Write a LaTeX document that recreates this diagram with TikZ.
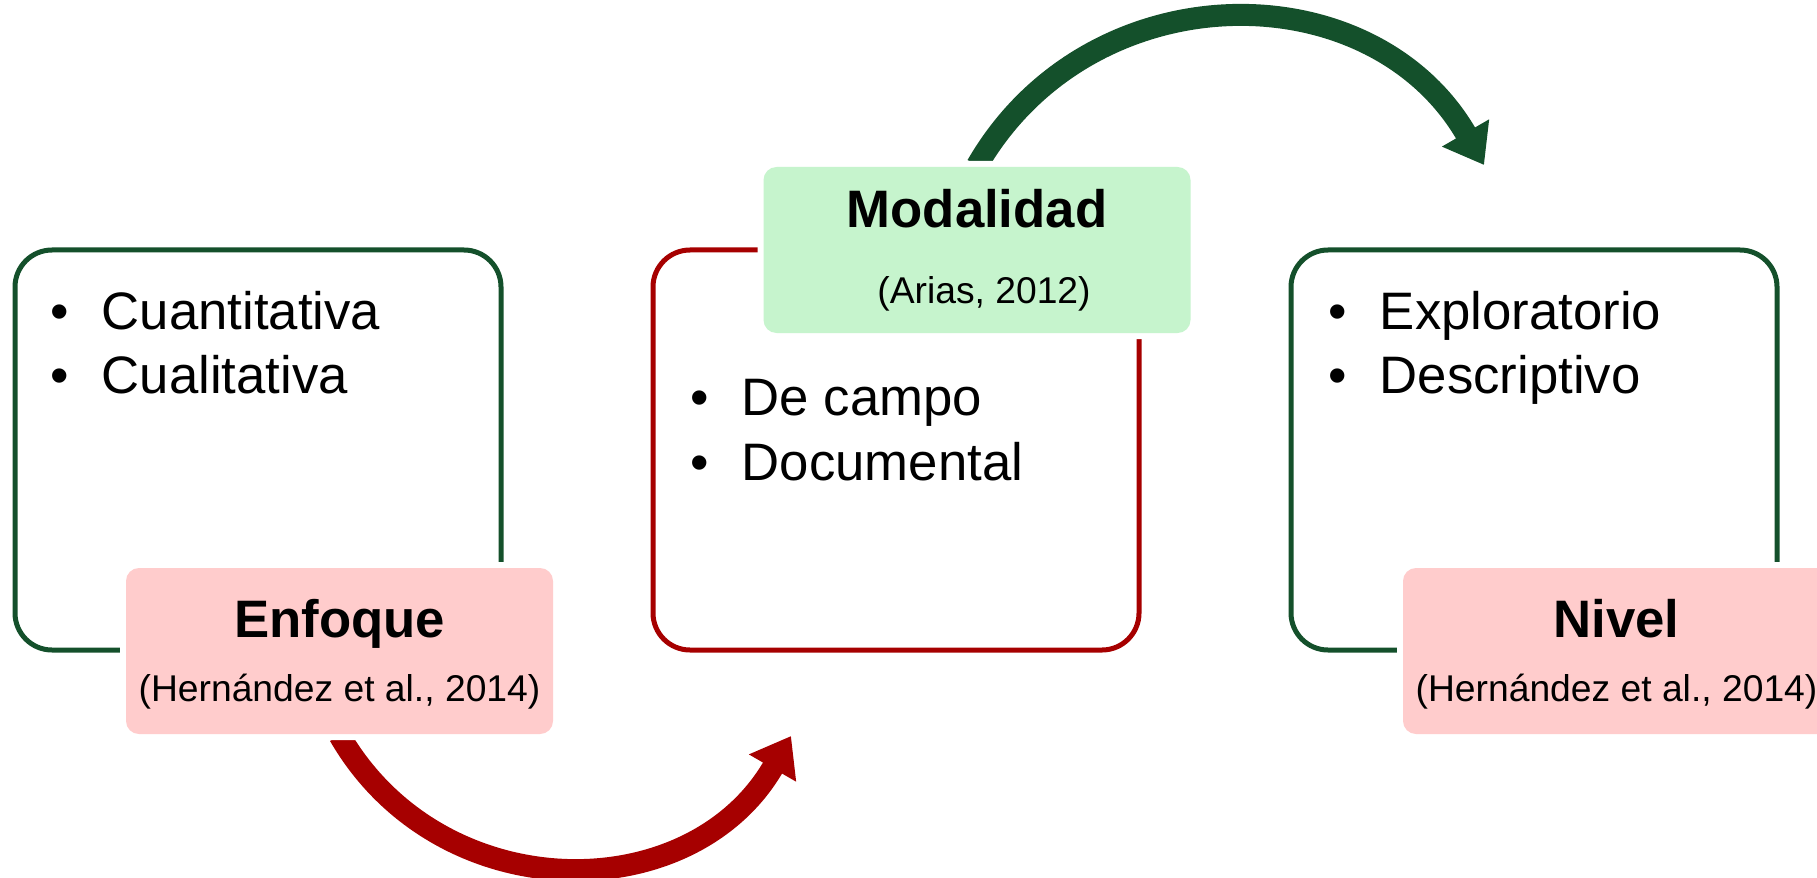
\documentclass[tikz,border=0pt]{standalone}
\usepackage{fontspec}
\setmainfont{Liberation Sans}
\usetikzlibrary{positioning}
\usetikzlibrary{arrows.meta}
\usetikzlibrary{backgrounds}
\definecolor{dgreen}{RGB}{20,80,43}
\definecolor{dred}{RGB}{166,0,0}
\definecolor{lpink}{RGB}{255,204,204}
\definecolor{lgreen}{RGB}{198,244,205}
\tikzset{
    mybox/.style = {rectangle, rounded corners=0.37cm, line width=0.05cm, draw=dgreen, minimum width=4.86cm, minimum height=4cm, inner sep=0},
    myboxr/.style = {mybox, draw=dred},
    mytag/.style = {rectangle, rounded corners=0.13cm, fill=lpink, minimum width=4.27cm, minimum height=1.66cm, inner sep=0, preaction={draw=white, line width=0.12cm}},
    mytagg/.style = {mytag, fill=lgreen},
    mytitle/.style = {anchor=base, inner sep=0, font=\fontsize{15}{18}\selectfont\bfseries},
    mycite/.style = {anchor=base, inner sep=0, font=\fontsize{10.6}{12.5}\selectfont},
    mylist/.style = {anchor=base west, inner sep=0, font=\fontsize{15}{18}\selectfont},
    edger/.style = {line width=0.22cm, dred, -{Triangle[length=0.37cm, width=0.52cm]}}, % enfoque -> modalidad
    edgeg/.style = {line width=0.22cm, dgreen, -{Triangle[length=0.37cm, width=0.52cm]}} % modalidad -> nivel
}
\begin{document}
\begin{tikzpicture}[thick]
\path[use as bounding box, clip] (0,0) rectangle (18.17,8.77);
\node[mybox] at (2.58,4.27) (enfoqueb) {};
\node[myboxr] at (8.96,4.27) (modalidadb) {};
\node[mybox] at (15.34,4.27) (nivelb) {};
%
\node[mylist] at (0.49,5.48) (l1) {\textbullet\hspace{0.33cm}Cuantitativa};
\node[mylist] at (0.49,4.84) (l2) {\textbullet\hspace{0.33cm}Cualitativa};
\node[mylist] at (6.89,4.62) (m1) {\textbullet\hspace{0.33cm}De campo};
\node[mylist] at (6.89,3.97) (m2) {\textbullet\hspace{0.33cm}Documental};
\node[mylist] at (13.27,5.48) (n1) {\textbullet\hspace{0.33cm}Exploratorio};
\node[mylist] at (13.27,4.84) (n2) {\textbullet\hspace{0.33cm}Descriptivo};
%
\node[mytag] at (3.395,2.26) (enfoque) {};
\node[mytagg] at (9.77,6.27) (modalidad) {};
\node[mytag] at (16.165,2.26) (nivel) {};
%
\node[mytitle] at ([yshift=0.14cm]enfoque.center) (enfoquet) {Enfoque};
\node[mycite] at ([yshift=-0.50cm]enfoque.center) (enfoquec) {(Hernández et al., 2014)};
\node[mytitle] at ([yshift=0.22cm]modalidad.center) (modalidadt) {Modalidad};
\node[mycite] at ([xshift=0.07cm,yshift=-0.54cm]modalidad.center) (modalidadc) {(Arias, 2012)};
\node[mytitle] at ([yshift=0.14cm]nivel.center) (nivelt) {Nivel};
\node[mycite] at ([yshift=-0.50cm]nivel.center) (nivelc) {(Hernández et al., 2014)};
%
\coordinate (redtip) at (7.91,1.41);
\coordinate (greentip) at (14.84,7.12);
\begin{scope}[on background layer]
\draw[edger] (enfoque.south) to[out=-60,in=240,looseness=1.14] (redtip);
\draw[edgeg] (modalidad.north) to[out=60,in=120,looseness=1.14] (greentip);
\end{scope}

\end{tikzpicture}
\end{document}
